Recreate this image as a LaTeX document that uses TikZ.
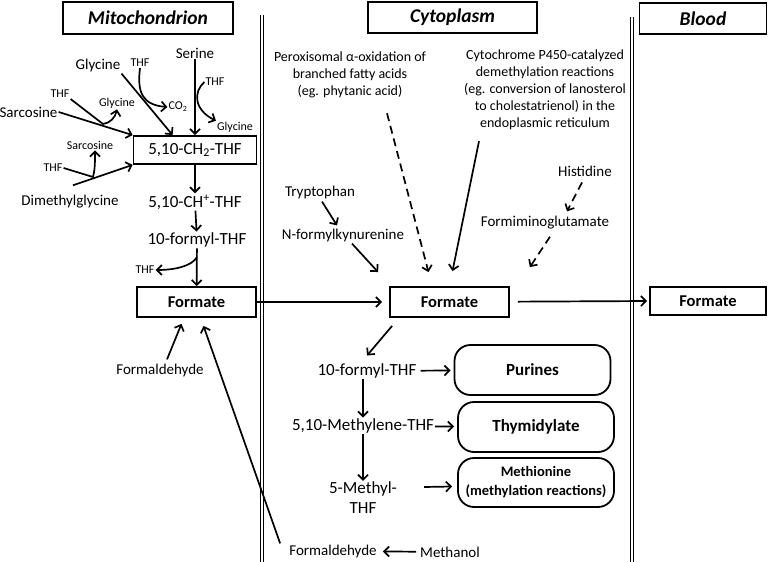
\documentclass[tikz,border=0pt]{standalone}
\usepackage{fontspec}
\setmainfont{Carlito}
\usetikzlibrary{arrows.meta,positioning}

\begin{document}
\begin{tikzpicture}[x=1pt, y=-1pt,
  lbl/.style={inner sep=1pt, font=\fontsize{15}{18}\selectfont},
  big/.style={inner sep=1pt, align=center, font=\fontsize{17}{20}\selectfont},
  tiny/.style={inner sep=1pt, font=\fontsize{12}{14}\selectfont},
  note/.style={inner sep=1pt, align=center, font=\fontsize{14}{17}\selectfont},
  hdr/.style={draw, line width=1.8pt, inner sep=0pt, font=\fontsize{19.5}{22}\selectfont\bfseries\itshape},
  fbox/.style={draw, line width=1.8pt, inner sep=0pt, minimum width=119pt, minimum height=30pt, font=\fontsize{16.5}{19}\selectfont\bfseries},
  pill/.style={draw, line width=1.8pt, rounded corners=16pt, inner sep=0pt, align=center, minimum width=156pt, minimum height=50pt, font=\fontsize{17}{19}\selectfont\bfseries},
  arr/.style={line width=1.7pt, -{Straight Barb[length=5pt,width=10pt]}},
  darr/.style={arr, dash pattern=on 8pt off 5pt},
  wall/.style={double, double distance=2pt, line width=1pt}
]
\useasboundingbox (0,0) rectangle (769,562);

% Compartments
\node[hdr, minimum width=170pt, minimum height=32pt] (mitohdr) at (148,18) {Mitochondrion};
\node[hdr, minimum width=169pt, minimum height=31pt] (cytohdr) at (452.5,17.5) {Cytoplasm};
\node[hdr, minimum width=127pt, minimum height=31pt] (bloodhdr) at (703,18.5) {Blood};
\draw[wall] (261.5,15) -- (261.5,562);
\draw[wall] (631.5,17) -- (631.5,562);

% Mitochondrion
\node[lbl] (serine) at (195,53) {Serine};
\node[draw, line width=1.8pt, inner sep=0pt, minimum width=123pt, minimum height=28pt,
  font=\fontsize{17}{20}\selectfont] (ch2thf) at (195,150) {5,10-CH\textsubscript{2}-THF};
\node[tiny] (thfA) at (215,82) {THF};
\node[tiny] (glyA) at (235,127) {Glycine};
\node[lbl] (glycine) at (98,66) {Glycine};
\node[tiny] (thfB) at (140,63) {THF};
\node[tiny] (co2) at (178,107) {CO\textsubscript{2}};
\node[lbl] (sarcosine) at (28.5,112) {Sarcosine};
\node[tiny] (thfC) at (60,94) {THF};
\node[tiny] (glyB) at (117,103) {Glycine};
\node[tiny] (sarcB) at (90,145) {Sarcosine};
\node[tiny] (thfD) at (53,168) {THF};
\node[lbl] (dmg) at (70,202) {Dimethylglycine};
\node[big] (chthf) at (195,202) {5,10-CH\textsuperscript{+}-THF};
\node[big] (mformyl) at (197,240) {10-formyl-THF};
\node[tiny] (thfE) at (145,270) {THF};
\node[fbox] (mformate) at (196.5,302) {Formate};
\node[lbl] (formA) at (160,370) {Formaldehyde};
\coordinate (mC) at (103,124);
\coordinate (mD) at (93,177);
\coordinate (mE) at (197,257);

\draw[arr] (serine) -- (ch2thf);
\draw[arr] (thfA.west) .. controls (193,92) and (194,110) .. (glyA.north west);
\draw[arr] (glycine.south east) -- ([xshift=40pt]ch2thf.north west);
\draw[arr] (thfB.south) .. controls (137,92) and (142,105) .. (co2.west);
\draw[arr] (sarcosine.east) -- (ch2thf.north west);
\draw[arr] (thfC.south east) -- (mC) .. controls (110,123) and (115,118) .. (glyB.south);
\draw[arr] ([xshift=3pt,yshift=9pt]dmg.north) -- (ch2thf.south west);
\draw[arr] (thfD.east) -- (mD) .. controls (95,170) and (95,162) .. ([xshift=5pt]sarcB.south);
\draw[arr] (ch2thf) -- (chthf);
\draw[arr] (chthf) -- (mformyl);
\draw[arr] (mformyl) -- (mformate);
\draw[arr] (mE) .. controls (192,266) and (175,270) .. (thfE.east);
\draw[arr] ([xshift=7pt,yshift=3pt]formA.north) -- ([xshift=-15pt,yshift=-6pt]mformate.south);

% Cytoplasm
\node[note] (perox) at (350,75) {Peroxisomal α-oxidation of\\branched fatty acids\\(eg. phytanic acid)};
\node[note] (cyto) at (545,90) {Cytochrome P450-catalyzed\\demethylation reactions\\(eg. conversion of lanosterol\\to cholestatrienol) in the\\endoplasmic reticulum};
\node[lbl] (tryp) at (320,192) {Tryptophan};
\node[lbl] (nfk) at (343,235) {N-formylkynurenine};
\node[lbl] (his) at (585,171) {Histidine};
\node[lbl] (figlu) at (545,223) {Formiminoglutamate};
\node[fbox] (cformate) at (449.5,302) {Formate};
\node[big] (cformyl) at (367,371) {10-formyl-THF};
\node[big] (methylene) at (363,426) {5,10-Methylene-THF};
\node[big] (methyl) at (363,498) {5-Methyl-\\THF};
\node[pill] (purines) at (532.5,370) {Purines};
\node[pill] (thym) at (536,427) {Thymidylate};
\node[pill, minimum height=49pt, font=\fontsize{14.5}{19}\selectfont\bfseries] (meth) at (536,482.5) {Methionine\\(methylation reactions)};
\node[lbl] (formB) at (333,551) {Formaldehyde};
\node[lbl] (methanol) at (450,552) {Methanol};

% Blood
\node[fbox, minimum width=116pt, minimum height=28pt] (bformate) at (708,301) {Formate};

\draw[darr] ([xshift=37pt,yshift=-14pt]perox.south) -- ([xshift=-21pt,yshift=14pt]cformate.north);
\draw[arr] ([xshift=-66pt,yshift=-10pt]cyto.south) -- ([xshift=3pt,yshift=15pt]cformate.north);
\draw[arr] ([xshift=2pt,yshift=-2pt]tryp.south) -- ([xshift=-6pt,yshift=2pt]nfk.north);
\draw[arr] ([xshift=9pt,yshift=-1pt]nfk.south) -- ([xshift=-11pt,yshift=14pt]cformate.north west);
\draw[darr] ([xshift=-3pt,yshift=-5pt]his.south) -- ([xshift=22pt,yshift=4pt]figlu.north);
\draw[darr] ([xshift=5pt,yshift=-6pt]figlu.south) -- ([xshift=20pt,yshift=19pt]cformate.north east);
\draw[arr, shorten >=7pt] (mformate) -- (cformate);
\draw[arr, shorten <=8pt, shorten >=2pt] (cformate) -- (bformate.west);
\draw[arr] ([xshift=3pt,yshift=-8pt]cformate.south west) -- ([yshift=7pt]cformyl.north);
\draw[arr, shorten <=3pt, shorten >=3pt] (cformyl) -- (purines);
\draw[arr] (cformyl.south -| methylene.north) -- (methylene.north);
\draw[arr, shorten >=3pt] (methylene) -- (thym);
\draw[arr] (methylene) -- (methyl);
\draw[arr] ([xshift=26pt,yshift=11pt]methyl.east) -- ([xshift=-5pt,yshift=-4pt]meth.west);
\draw[arr, shorten <=3pt, shorten >=5pt] (methanol) -- (formB);
\draw[arr] ([xshift=-8pt]formB.north west) -- ([xshift=7pt,yshift=-8pt]mformate.south);
\end{tikzpicture}
\end{document}
